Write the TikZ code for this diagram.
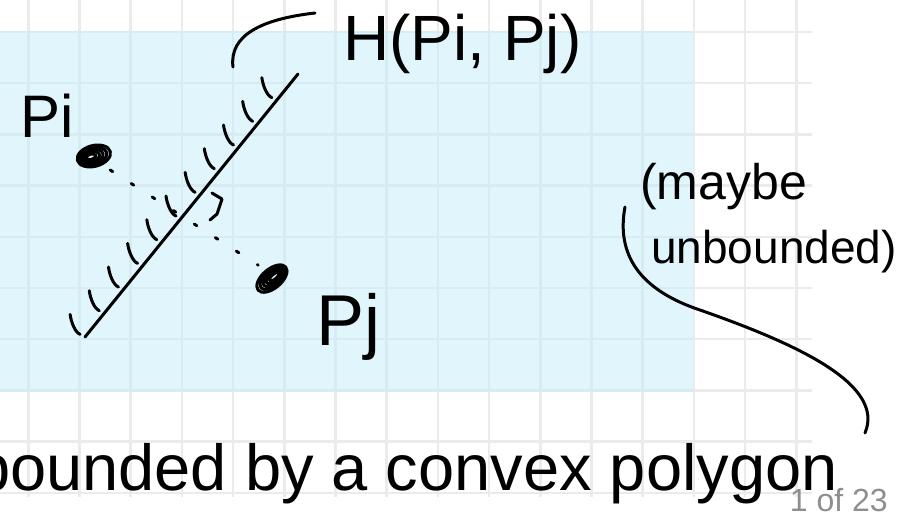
\documentclass[tikz,border=0pt]{standalone}
\usepackage{fontspec}
\setmainfont{Liberation Sans}
\usetikzlibrary{calc}

\definecolor{sheetblue}{HTML}{C3EBF9}
\definecolor{gridgray}{HTML}{EBEBEB}
\definecolor{pagegray}{HTML}{8E8E8E}

\begin{document}
\begin{tikzpicture}[x=1pt, y=-1pt,
  ink/.style={line width=3pt, line cap=round, line join=round},
  hand/.style={inner sep=0pt, font=\fontsize{#1}{#1}\selectfont}]
  \useasboundingbox (0,0) rectangle (901,515);
  \clip (0,0) rectangle (901,515);
  % squared paper
  \foreach \k in {0,...,15}
    \draw[gridgray, line width=2.5pt] (28.3+51.2*\k,0) -- (28.3+51.2*\k,497);
  \foreach \k in {0,...,9}
    \draw[gridgray, line width=2.5pt] (0,32+51.2*\k) -- (812,32+51.2*\k);
  \fill[sheetblue, fill opacity=0.5] (0,31) rectangle (693,392);

  \coordinate (lineA) at (85,337);
  \coordinate (lineB) at (298,74);
  \coordinate (foot) at (192,205);
  \coordinate (pidot) at (90,157);
  \coordinate (pjdot) at (275,276);

  \node[hand=60, anchor=base west] (pilabel) at (20,137) {Pi};
  \node[hand=72, anchor=base west] (pjlabel) at (316,345) {Pj};
  \node[hand=64, anchor=base west] (hlabel) at (343,60) {H(Pi, Pj)};
  \node[hand=50, anchor=base west] (maybe) at (640,199) {(maybe};
  \node[hand=46, anchor=base west] (unbd) at (651,263) {unbounded)};
  \node[hand=65, anchor=base east] (caption) at (838,490) {bounded by a convex polygon};
  \node[hand=32, anchor=base east, text=pagegray] (pageno) at (888,511) {1 of 23};

  % the two points, scribbled
  \foreach \r in {4,7,10,13,16}
    \draw[ink, rotate around={15:(pidot)}] ($(pidot)+(\r/4,0)$) ellipse [x radius={(\r+1)*1pt}, y radius={0.65*\r*1pt}];
  \foreach \r in {4,7,10,13,16}
    \draw[ink, rotate around={40:(pjdot)}] ($(pjdot)+(-\r/4,0)$) ellipse [x radius={(\r+2)*1pt}, y radius={0.6*\r*1pt}];

  % bisector with hatching on the Pi side
  \draw[ink] (lineA) -- (lineB);
  \foreach \p in {0.01,0.1,...,0.92}
    \draw[ink] ($(lineA)!\p!(lineB)+(-7,0)$) .. controls +(-5,-2) and +(1,8) .. +(-10,-20);

  % dotted segment and right angle
  \draw[ink, dash pattern=on 3pt off 22pt, shorten <=24pt, shorten >=20pt] (pidot) -- (pjdot);
  \draw[ink] ($(foot)+(20,-12)$) -- ++(10,6) -- ++(-5,15) -- ++(-7,6);

  % leaders
  \coordinate (hfrom) at (233,67);
  \coordinate (hto) at (315,13);
  \draw[ink] (hfrom) .. controls (229,35) and (262,19) .. (hto);
  \coordinate (nfrom) at (625,207);
  \coordinate (nto) at (865,433);
  \draw[ink] (nfrom) .. controls (616,255) and (640,290) .. (700,310)
    .. controls (800,345) and (885,385) .. (nto);
\end{tikzpicture}
\end{document}
